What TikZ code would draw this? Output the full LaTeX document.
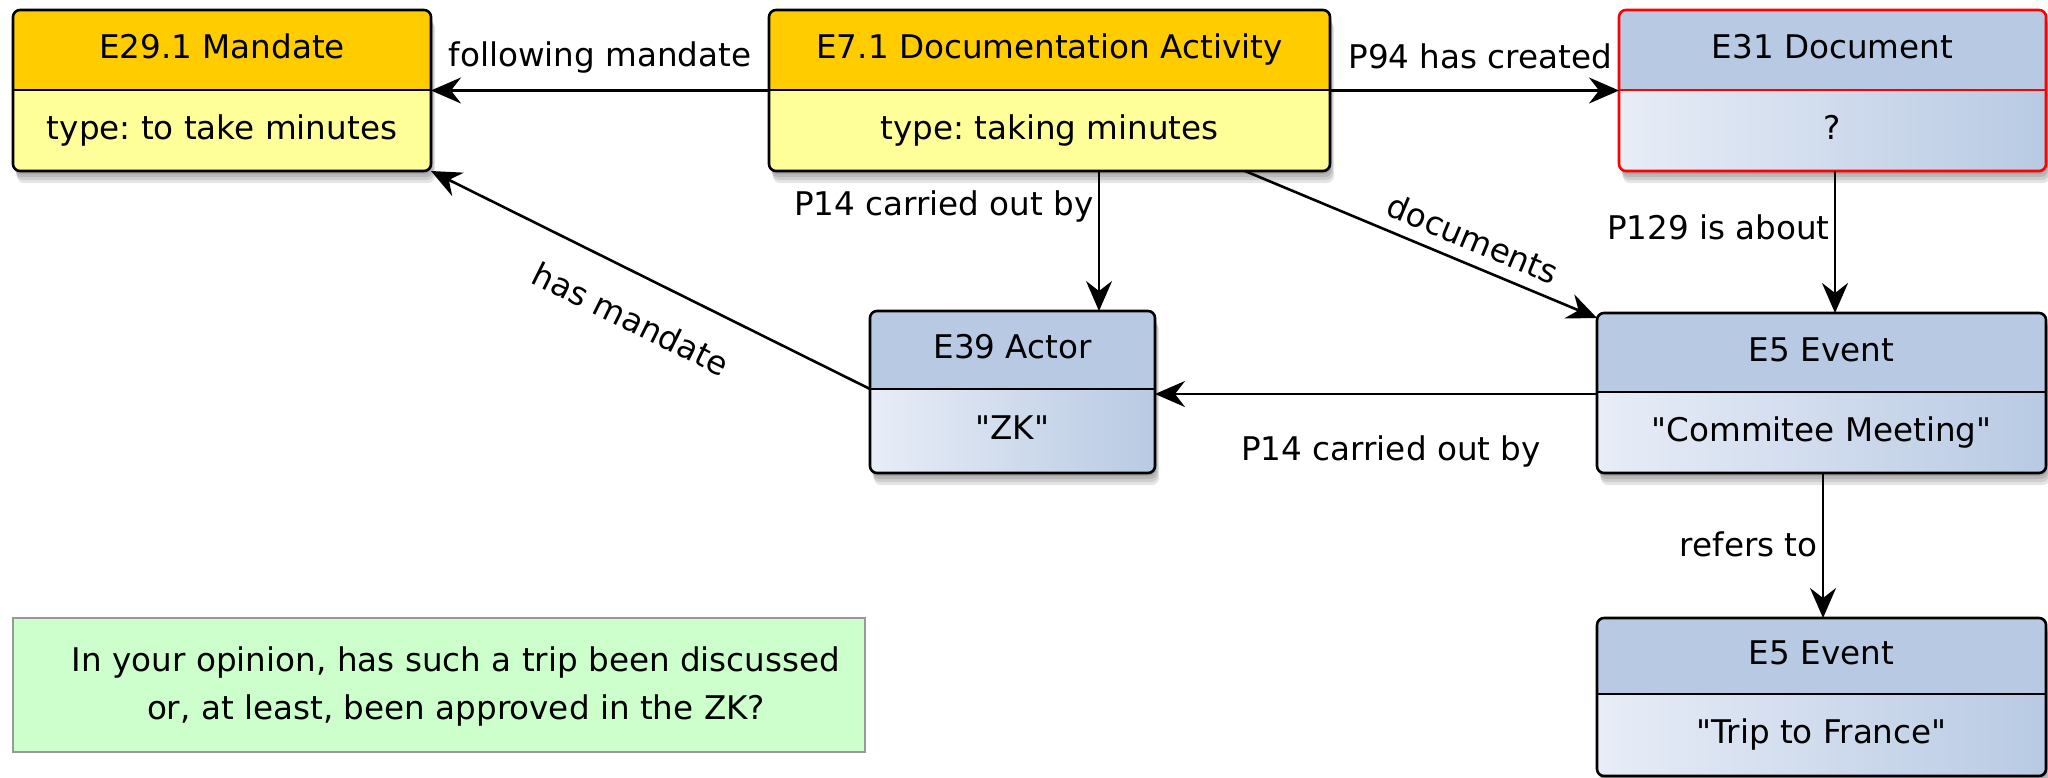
\documentclass[tikz,border=0pt]{standalone}
\usepackage{fontspec}
\setmainfont{DejaVu Sans}
\newfontfamily\plainfont{DejaVu Sans}
\usetikzlibrary{arrows.meta,fit,calc}
\definecolor{hdrY}{HTML}{FFCC00}
\definecolor{bodyLY}{HTML}{FFFF99}
\definecolor{bodyRY}{HTML}{FFFF99}
\definecolor{lineY}{HTML}{000000}
\definecolor{hdrB}{HTML}{B8CAE3}
\definecolor{bodyLB}{HTML}{E8EDF7}
\definecolor{bodyRB}{HTML}{B8CAE3}
\definecolor{lineB}{HTML}{000000}
\definecolor{hdrR}{HTML}{B8CAE3}
\definecolor{bodyLR}{HTML}{E8EDF7}
\definecolor{bodyRR}{HTML}{B8CAE3}
\definecolor{lineR}{HTML}{FF0000}
\definecolor{noteFill}{HTML}{CCFFCC}
\definecolor{noteLine}{HTML}{999999}
\newcommand\dq{{\plainfont"}}
\frenchspacing

\tikzset{
  txt/.style={font=\fontsize{16.3}{24}\selectfont, inner sep=0pt, text height=12.5pt, text depth=4pt},
  frame/.style={inner sep=0pt, outer sep=0pt},
  rel/.style={line width=1.3pt, -{Stealth[length=15pt,width=13pt,inset=5pt]}},
  boxline/.style={line width=1.3pt, rounded corners=3.5pt},
}

% #1 name, #2 x1, #3 y1, #4 x2, #5 y2, #6 divider y, #7 kind (Y/B/R), #8 header, #9 body
\newcommand\entity[9]{%
  \node[frame, fit={(#2,#3) (#4,#5)}] (#1) {};
  \coordinate (#1-d) at (#2,#6);
  \foreach \s in {2,4,6,8}{%
    \fill[black, opacity=0.1, rounded corners=3.5pt]
      ([shift={(0.5*\s,1.5*\s)}]#1.south west) rectangle ([shift={(0.5*\s,1.5*\s)}]#1.north east);}
  \begin{scope}
    \clip[rounded corners=3.5pt] (#1.south west) rectangle (#1.north east);
    \fill[hdr#7] (#1.north west) rectangle (#1.east |- #1-d);
    \shade[left color=bodyL#7, right color=bodyR#7] (#1.west |- #1-d) rectangle (#1.south east);
  \end{scope}
  \draw[boxline, draw=line#7] (#1.south west) rectangle (#1.north east);
  \draw[line width=1.3pt, draw=line#7] (#1.west |- #1-d) -- (#1.east |- #1-d);
  \node[txt] (#1-h) at ($(#1.north)!0.5!(#1.north |- #1-d)$) {#8};
  \node[txt] (#1-b) at ($(#1.south)!0.5!(#1.south |- #1-d)$) {#9};
}

\begin{document}
\begin{tikzpicture}[x=0.5pt,y=-0.5pt]
\useasboundingbox (0,0) rectangle (2048,777);

\entity{mand}{13}{10}{431}{171}{90}{Y}{E29.1 Mandate}{type: to take minutes}
\entity{act}{769}{10}{1330}{171}{90}{Y}{E7.1 Documentation Activity}{type: taking minutes}
\entity{doc}{1619}{10}{2046}{171}{90}{R}{E31 Document}{?}
\entity{actor}{870}{311}{1155}{473}{389}{B}{E39 Actor}{\dq ZK\dq}
\entity{ev1}{1597}{313}{2046}{473}{392}{B}{E5 Event}{\dq Commitee Meeting\dq}
\entity{ev2}{1597}{618}{2046}{776}{694}{B}{E5 Event}{\dq Trip to France\dq}

% note
\node[frame, fit={(13,618) (865,752)}, draw=noteLine, fill=noteFill, line width=1.3pt] (note) {};
\node[txt, align=center, text height=, text depth=] (note-t) at (456,686)
  {In your opinion, has such a trip been discussed\\or, at least, been approved in the ZK?};

% helper coordinates
\coordinate (x1099) at (1099,0);
\coordinate (x1245) at (1245,0);
\coordinate (x1835) at (1835,0);
\coordinate (x1823) at (1823,0);
\coordinate (y394) at (0,394);

% connectors
\draw[rel] (act.west) -- node[txt, midway, above=7.5pt] (l1) {following mandate} (mand.east);

\draw[rel] (act.east) -- (doc.west);
\begin{scope}
  \clip (act.north east) rectangle (doc.south west);
  \path (act.east) -- node[txt, pos=0, anchor=base west, xshift=9pt, yshift=11.25pt] (l2) {P94 has created} (doc.west);
\end{scope}

\draw[rel] (act.south -| x1099) -- node[txt, pos=0.26, anchor=east, xshift=-2pt] (l3) {P14 carried out by} (actor.north -| x1099);

\draw[rel] (act.south -| x1245) -- node[txt, pos=0.62, sloped, above=2pt] (l4) {documents} ([yshift=-2.5pt]ev1.north west);

\draw[rel] (doc.south -| x1835) -- node[txt, pos=0.42, anchor=east, xshift=-2pt] (l5) {P129 is about} (ev1.north -| x1835);

\draw[rel] (ev1.west |- y394) -- node[txt, pos=0.466, below=20.25pt] (l6) {P14 carried out by} (actor.east |- y394);

\draw[rel] (actor.west |- actor-d) -- node[txt, pos=0.50, sloped, below=14.7pt] (l7) {has mandate} (mand.south east);

\draw[rel] (ev1.south -| x1823) -- node[txt, pos=0.52, anchor=east, xshift=-2pt] (l8) {refers to} (ev2.north -| x1823);

\end{tikzpicture}
\end{document}
